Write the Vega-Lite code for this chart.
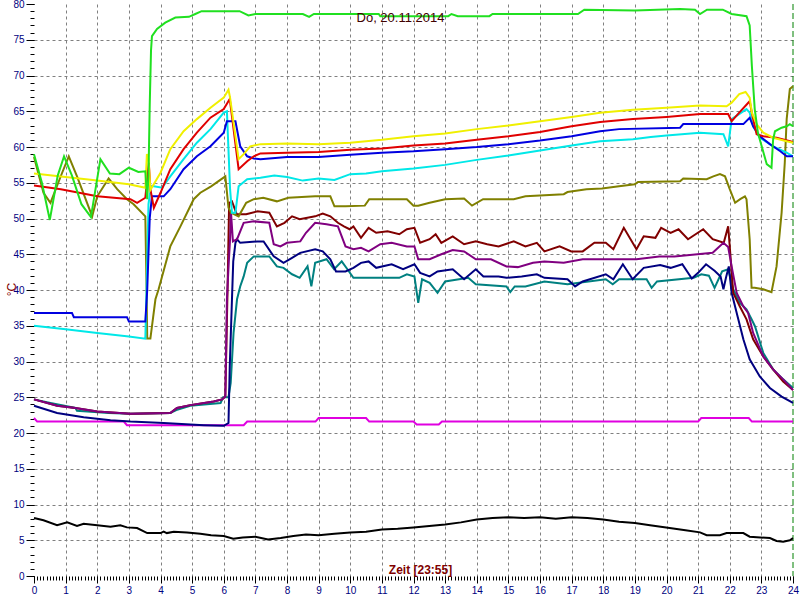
{
"$schema":"https://vega.github.io/schema/vega-lite/v6.json",
"width":759,"height":572,"autosize":"none",
"padding":{"left":34,"top":4,"right":7,"bottom":24},
"background":"white",
"title":{"text":"Do, 20.11.2014","frame":"group","anchor":"middle","offset":0,"dy":26,"dx":-13,"fontSize":13,"fontWeight":"normal","color":"#400000","font":"Liberation Sans"},
"config":{"view":{"stroke":null},"axis":{"labelFont":"Liberation Sans","labelFontSize":10,"labelColor":"#000080","tickColor":"#000000","domain":false,"gridColor":"#808080","gridDash":[3,3],"gridWidth":1,"labelOverlap":false,"labelFlush":false}},
"datasets":{"d":[
{"s":"a","h":0,"t":8.1},{"s":"a","h":0.3,"t":7.8},{"s":"a","h":0.73,"t":7.1},{"s":"a","h":1.05,"t":7.5},{"s":"a","h":1.36,"t":7.0},{"s":"a","h":1.57,"t":7.3},{"s":"a","h":2.0,"t":7.1},{"s":"a","h":2.42,"t":6.9},{"s":"a","h":2.73,"t":7.1},{"s":"a","h":2.94,"t":6.8},{"s":"a","h":3.26,"t":6.7},{"s":"a","h":3.58,"t":6.0},{"s":"a","h":4.0,"t":6.0},{"s":"a","h":4.1,"t":6.2},{"s":"a","h":4.2,"t":6.0},{"s":"a","h":4.42,"t":6.2},{"s":"a","h":4.84,"t":6.1},{"s":"a","h":5.26,"t":5.9},{"s":"a","h":5.6,"t":5.7},{"s":"a","h":6.0,"t":5.6},{"s":"a","h":6.3,"t":5.2},{"s":"a","h":6.6,"t":5.4},{"s":"a","h":7.0,"t":5.5},{"s":"a","h":7.4,"t":5.1},{"s":"a","h":7.8,"t":5.3},{"s":"a","h":8.2,"t":5.6},{"s":"a","h":8.6,"t":5.8},{"s":"a","h":9.0,"t":5.7},{"s":"a","h":9.5,"t":5.9},{"s":"a","h":10.0,"t":6.1},{"s":"a","h":10.5,"t":6.2},{"s":"a","h":11.0,"t":6.5},{"s":"a","h":11.5,"t":6.6},{"s":"a","h":12.0,"t":6.8},{"s":"a","h":12.5,"t":7.0},{"s":"a","h":13.0,"t":7.2},{"s":"a","h":13.5,"t":7.5},{"s":"a","h":14.0,"t":7.9},{"s":"a","h":14.5,"t":8.1},{"s":"a","h":15.0,"t":8.2},{"s":"a","h":15.5,"t":8.1},{"s":"a","h":16.0,"t":8.2},{"s":"a","h":16.5,"t":8.0},{"s":"a","h":17.0,"t":8.2},{"s":"a","h":17.5,"t":8.1},{"s":"a","h":18.0,"t":7.9},{"s":"a","h":18.5,"t":7.6},{"s":"a","h":19.0,"t":7.4},{"s":"a","h":19.48,"t":7.1},{"s":"a","h":20.1,"t":6.7},{"s":"a","h":20.6,"t":6.4},{"s":"a","h":21.06,"t":6.1},{"s":"a","h":21.27,"t":5.7},{"s":"a","h":21.69,"t":5.7},{"s":"a","h":21.9,"t":6.0},{"s":"a","h":22.43,"t":6.0},{"s":"a","h":22.63,"t":5.5},{"s":"a","h":23.27,"t":5.3},{"s":"a","h":23.48,"t":4.9},{"s":"a","h":23.69,"t":4.8},{"s":"a","h":23.9,"t":5.0},{"s":"a","h":24,"t":5.3},
{"s":"b","h":0,"t":22.1},{"s":"b","h":0.1,"t":21.6},{"s":"b","h":2.84,"t":21.6},{"s":"b","h":2.94,"t":21.1},{"s":"b","h":6.63,"t":21.1},{"s":"b","h":6.74,"t":21.6},{"s":"b","h":8.9,"t":21.6},{"s":"b","h":9.0,"t":22.1},{"s":"b","h":10.5,"t":22.1},{"s":"b","h":10.6,"t":21.6},{"s":"b","h":12.0,"t":21.6},{"s":"b","h":12.1,"t":21.2},{"s":"b","h":12.8,"t":21.2},{"s":"b","h":12.9,"t":21.6},{"s":"b","h":21.0,"t":21.6},{"s":"b","h":21.1,"t":22.1},{"s":"b","h":22.6,"t":22.1},{"s":"b","h":22.7,"t":21.6},{"s":"b","h":24,"t":21.6},
{"s":"c","h":0,"t":24.7},{"s":"c","h":0.52,"t":24.2},{"s":"c","h":1.31,"t":23.5},{"s":"c","h":1.36,"t":23.1},{"s":"c","h":2.36,"t":22.8},{"s":"c","h":3.05,"t":22.7},{"s":"c","h":4.31,"t":22.8},{"s":"c","h":4.5,"t":23.2},{"s":"c","h":4.94,"t":23.8},{"s":"c","h":5.9,"t":24.2},{"s":"c","h":5.98,"t":25.0},{"s":"c","h":6.15,"t":25.0},{"s":"c","h":6.22,"t":27.0},{"s":"c","h":6.31,"t":34.0},{"s":"c","h":6.42,"t":38.7},{"s":"c","h":6.52,"t":40.5},{"s":"c","h":6.63,"t":41.9},{"s":"c","h":6.74,"t":43.8},{"s":"c","h":6.95,"t":44.7},{"s":"c","h":7.44,"t":44.7},{"s":"c","h":7.68,"t":43.3},{"s":"c","h":7.89,"t":43.1},{"s":"c","h":8.16,"t":42.2},{"s":"c","h":8.4,"t":41.7},{"s":"c","h":8.65,"t":43.3},{"s":"c","h":8.77,"t":40.5},{"s":"c","h":8.89,"t":43.8},{"s":"c","h":9.25,"t":44.3},{"s":"c","h":9.49,"t":42.9},{"s":"c","h":9.73,"t":44.0},{"s":"c","h":9.91,"t":42.9},{"s":"c","h":10.1,"t":41.7},{"s":"c","h":11.55,"t":41.7},{"s":"c","h":11.79,"t":42.2},{"s":"c","h":12.03,"t":41.9},{"s":"c","h":12.15,"t":38.2},{"s":"c","h":12.27,"t":41.5},{"s":"c","h":12.51,"t":41.0},{"s":"c","h":12.76,"t":39.6},{"s":"c","h":13.0,"t":41.2},{"s":"c","h":13.73,"t":41.7},{"s":"c","h":13.97,"t":40.8},{"s":"c","h":14.94,"t":40.5},{"s":"c","h":15.06,"t":39.7},{"s":"c","h":15.2,"t":40.5},{"s":"c","h":15.54,"t":40.5},{"s":"c","h":16.14,"t":41.2},{"s":"c","h":16.87,"t":40.8},{"s":"c","h":18.08,"t":41.5},{"s":"c","h":18.3,"t":40.8},{"s":"c","h":18.5,"t":41.5},{"s":"c","h":19.37,"t":41.5},{"s":"c","h":19.53,"t":40.3},{"s":"c","h":19.7,"t":41.2},{"s":"c","h":20.86,"t":41.7},{"s":"c","h":21.1,"t":42.2},{"s":"c","h":21.34,"t":42.0},{"s":"c","h":21.52,"t":40.3},{"s":"c","h":21.76,"t":42.6},{"s":"c","h":21.95,"t":42.9},{"s":"c","h":22.11,"t":40.1},{"s":"c","h":22.32,"t":38.2},{"s":"c","h":22.53,"t":37.3},{"s":"c","h":22.69,"t":35.9},{"s":"c","h":22.8,"t":34.9},{"s":"c","h":23.06,"t":31.2},{"s":"c","h":23.37,"t":28.9},{"s":"c","h":23.69,"t":27.5},{"s":"c","h":24,"t":26.3},
{"s":"d","h":0,"t":23.8},{"s":"d","h":0.73,"t":22.8},{"s":"d","h":1.57,"t":22.2},{"s":"d","h":2.42,"t":21.8},{"s":"d","h":3.05,"t":21.6},{"s":"d","h":4.1,"t":21.4},{"s":"d","h":5.37,"t":21.1},{"s":"d","h":6.0,"t":21.0},{"s":"d","h":6.15,"t":21.4},{"s":"d","h":6.19,"t":29.3},{"s":"d","h":6.26,"t":38.7},{"s":"d","h":6.3,"t":44.0},{"s":"d","h":6.37,"t":46.6},{"s":"d","h":6.42,"t":47.1},{"s":"d","h":6.52,"t":46.6},{"s":"d","h":7.05,"t":46.8},{"s":"d","h":7.26,"t":46.8},{"s":"d","h":7.58,"t":44.7},{"s":"d","h":7.89,"t":43.8},{"s":"d","h":8.16,"t":44.5},{"s":"d","h":8.42,"t":45.2},{"s":"d","h":8.89,"t":45.7},{"s":"d","h":9.13,"t":45.4},{"s":"d","h":9.37,"t":44.3},{"s":"d","h":9.55,"t":42.6},{"s":"d","h":9.85,"t":42.6},{"s":"d","h":10.1,"t":43.1},{"s":"d","h":10.34,"t":43.8},{"s":"d","h":10.58,"t":44.0},{"s":"d","h":10.82,"t":43.1},{"s":"d","h":11.31,"t":43.6},{"s":"d","h":11.67,"t":42.9},{"s":"d","h":12.03,"t":43.6},{"s":"d","h":12.21,"t":42.4},{"s":"d","h":12.51,"t":41.9},{"s":"d","h":12.76,"t":42.6},{"s":"d","h":13.24,"t":42.9},{"s":"d","h":13.6,"t":41.5},{"s":"d","h":13.97,"t":42.9},{"s":"d","h":14.21,"t":41.9},{"s":"d","h":14.69,"t":41.9},{"s":"d","h":14.94,"t":41.7},{"s":"d","h":15.42,"t":41.9},{"s":"d","h":15.9,"t":42.2},{"s":"d","h":16.14,"t":41.7},{"s":"d","h":16.87,"t":41.5},{"s":"d","h":17.11,"t":40.5},{"s":"d","h":17.35,"t":41.2},{"s":"d","h":18.08,"t":42.2},{"s":"d","h":18.32,"t":41.5},{"s":"d","h":18.62,"t":43.6},{"s":"d","h":18.93,"t":41.5},{"s":"d","h":19.28,"t":43.1},{"s":"d","h":19.8,"t":43.5},{"s":"d","h":20.13,"t":43.1},{"s":"d","h":20.5,"t":43.6},{"s":"d","h":20.8,"t":41.6},{"s":"d","h":21.0,"t":42.4},{"s":"d","h":21.25,"t":43.6},{"s":"d","h":21.52,"t":42.7},{"s":"d","h":21.71,"t":41.9},{"s":"d","h":21.8,"t":40.1},{"s":"d","h":21.88,"t":41.7},{"s":"d","h":21.97,"t":43.3},{"s":"d","h":22.06,"t":39.6},{"s":"d","h":22.22,"t":36.8},{"s":"d","h":22.43,"t":33.1},{"s":"d","h":22.63,"t":30.3},{"s":"d","h":22.95,"t":27.9},{"s":"d","h":23.27,"t":26.3},{"s":"d","h":23.64,"t":25.1},{"s":"d","h":24,"t":24.2},
{"s":"e","h":0,"t":24.7},{"s":"e","h":0.73,"t":23.8},{"s":"e","h":1.31,"t":23.5},{"s":"e","h":2.0,"t":23.0},{"s":"e","h":3.05,"t":22.7},{"s":"e","h":4.31,"t":22.8},{"s":"e","h":4.52,"t":23.5},{"s":"e","h":4.94,"t":23.9},{"s":"e","h":5.68,"t":24.4},{"s":"e","h":5.95,"t":24.7},{"s":"e","h":6.05,"t":25.1},{"s":"e","h":6.12,"t":40.0},{"s":"e","h":6.17,"t":52.2},{"s":"e","h":6.26,"t":52.4},{"s":"e","h":6.41,"t":50.6},{"s":"e","h":6.71,"t":50.6},{"s":"e","h":7.07,"t":51.0},{"s":"e","h":7.44,"t":50.8},{"s":"e","h":7.68,"t":48.9},{"s":"e","h":7.92,"t":49.4},{"s":"e","h":8.16,"t":50.3},{"s":"e","h":8.4,"t":49.9},{"s":"e","h":8.89,"t":50.3},{"s":"e","h":9.13,"t":50.7},{"s":"e","h":9.37,"t":50.3},{"s":"e","h":9.61,"t":49.4},{"s":"e","h":9.8,"t":48.9},{"s":"e","h":9.98,"t":48.5},{"s":"e","h":10.1,"t":48.9},{"s":"e","h":10.34,"t":47.3},{"s":"e","h":10.58,"t":48.7},{"s":"e","h":10.82,"t":48.0},{"s":"e","h":11.18,"t":48.2},{"s":"e","h":11.55,"t":47.8},{"s":"e","h":11.79,"t":48.5},{"s":"e","h":12.03,"t":48.7},{"s":"e","h":12.21,"t":46.6},{"s":"e","h":12.51,"t":47.1},{"s":"e","h":12.7,"t":47.8},{"s":"e","h":12.88,"t":46.6},{"s":"e","h":13.24,"t":47.5},{"s":"e","h":13.6,"t":46.4},{"s":"e","h":13.97,"t":46.8},{"s":"e","h":14.33,"t":46.4},{"s":"e","h":14.69,"t":46.1},{"s":"e","h":15.17,"t":46.8},{"s":"e","h":15.54,"t":46.1},{"s":"e","h":15.9,"t":46.6},{"s":"e","h":16.14,"t":45.4},{"s":"e","h":16.62,"t":46.1},{"s":"e","h":16.99,"t":45.4},{"s":"e","h":17.35,"t":45.4},{"s":"e","h":17.72,"t":46.6},{"s":"e","h":18.08,"t":46.6},{"s":"e","h":18.32,"t":45.7},{"s":"e","h":18.65,"t":48.7},{"s":"e","h":19.05,"t":45.7},{"s":"e","h":19.28,"t":47.5},{"s":"e","h":19.65,"t":47.3},{"s":"e","h":19.83,"t":48.7},{"s":"e","h":20.13,"t":48.0},{"s":"e","h":20.38,"t":48.5},{"s":"e","h":20.68,"t":47.1},{"s":"e","h":21.16,"t":48.5},{"s":"e","h":21.46,"t":47.1},{"s":"e","h":21.81,"t":46.6},{"s":"e","h":21.95,"t":48.9},{"s":"e","h":22.0,"t":46.1},{"s":"e","h":22.11,"t":39.6},{"s":"e","h":22.32,"t":37.7},{"s":"e","h":22.53,"t":35.9},{"s":"e","h":22.74,"t":33.1},{"s":"e","h":23.06,"t":30.7},{"s":"e","h":23.37,"t":28.9},{"s":"e","h":23.69,"t":27.2},{"s":"e","h":24,"t":26.0},
{"s":"f","h":0,"t":24.7},{"s":"f","h":0.73,"t":23.8},{"s":"f","h":1.31,"t":23.5},{"s":"f","h":2.0,"t":23.0},{"s":"f","h":3.05,"t":22.7},{"s":"f","h":4.31,"t":22.8},{"s":"f","h":4.52,"t":23.5},{"s":"f","h":4.94,"t":23.9},{"s":"f","h":5.68,"t":24.4},{"s":"f","h":5.95,"t":24.7},{"s":"f","h":6.05,"t":25.1},{"s":"f","h":6.1,"t":38.7},{"s":"f","h":6.16,"t":44.0},{"s":"f","h":6.2,"t":47.1},{"s":"f","h":6.23,"t":50.8},{"s":"f","h":6.29,"t":46.8},{"s":"f","h":6.42,"t":47.1},{"s":"f","h":6.63,"t":49.4},{"s":"f","h":6.95,"t":49.6},{"s":"f","h":7.44,"t":49.4},{"s":"f","h":7.58,"t":46.4},{"s":"f","h":7.79,"t":46.1},{"s":"f","h":8.0,"t":46.6},{"s":"f","h":8.42,"t":46.8},{"s":"f","h":8.6,"t":48.0},{"s":"f","h":8.89,"t":49.4},{"s":"f","h":9.25,"t":49.2},{"s":"f","h":9.61,"t":48.9},{"s":"f","h":9.85,"t":46.1},{"s":"f","h":10.1,"t":45.7},{"s":"f","h":10.34,"t":45.9},{"s":"f","h":10.58,"t":45.4},{"s":"f","h":10.95,"t":46.4},{"s":"f","h":11.31,"t":46.6},{"s":"f","h":11.79,"t":46.1},{"s":"f","h":12.03,"t":46.1},{"s":"f","h":12.15,"t":44.3},{"s":"f","h":12.51,"t":44.3},{"s":"f","h":12.88,"t":45.0},{"s":"f","h":13.24,"t":45.6},{"s":"f","h":13.6,"t":45.4},{"s":"f","h":13.97,"t":44.3},{"s":"f","h":14.45,"t":44.3},{"s":"f","h":14.94,"t":43.3},{"s":"f","h":15.3,"t":43.2},{"s":"f","h":15.78,"t":43.8},{"s":"f","h":16.14,"t":44.0},{"s":"f","h":16.75,"t":43.8},{"s":"f","h":17.35,"t":44.3},{"s":"f","h":18.32,"t":44.3},{"s":"f","h":19.05,"t":44.3},{"s":"f","h":19.77,"t":44.7},{"s":"f","h":20.25,"t":44.7},{"s":"f","h":20.98,"t":45.0},{"s":"f","h":21.46,"t":45.2},{"s":"f","h":21.8,"t":46.6},{"s":"f","h":21.95,"t":46.0},{"s":"f","h":22.06,"t":43.3},{"s":"f","h":22.22,"t":39.6},{"s":"f","h":22.43,"t":37.7},{"s":"f","h":22.58,"t":36.8},{"s":"f","h":22.74,"t":34.0},{"s":"f","h":23.06,"t":30.7},{"s":"f","h":23.37,"t":28.9},{"s":"f","h":23.69,"t":27.5},{"s":"f","h":24,"t":26.0},
{"s":"g","h":0,"t":58.6},{"s":"g","h":0.3,"t":53.6},{"s":"g","h":0.52,"t":52.2},{"s":"g","h":0.89,"t":56.4},{"s":"g","h":1.1,"t":58.7},{"s":"g","h":1.36,"t":55.9},{"s":"g","h":1.84,"t":50.3},{"s":"g","h":2.0,"t":53.1},{"s":"g","h":2.36,"t":55.6},{"s":"g","h":2.63,"t":54.1},{"s":"g","h":2.94,"t":52.7},{"s":"g","h":3.15,"t":52.0},{"s":"g","h":3.52,"t":50.3},{"s":"g","h":3.56,"t":40.0},{"s":"g","h":3.58,"t":33.2},{"s":"g","h":3.68,"t":33.2},{"s":"g","h":3.84,"t":38.7},{"s":"g","h":3.94,"t":40.1},{"s":"g","h":4.31,"t":46.1},{"s":"g","h":4.63,"t":48.9},{"s":"g","h":5.05,"t":52.7},{"s":"g","h":5.26,"t":53.6},{"s":"g","h":5.6,"t":54.5},{"s":"g","h":6.05,"t":55.9},{"s":"g","h":6.15,"t":51.5},{"s":"g","h":6.23,"t":50.8},{"s":"g","h":6.47,"t":50.3},{"s":"g","h":6.71,"t":52.2},{"s":"g","h":6.95,"t":52.7},{"s":"g","h":7.25,"t":52.9},{"s":"g","h":7.68,"t":52.4},{"s":"g","h":8.04,"t":52.9},{"s":"g","h":8.89,"t":53.1},{"s":"g","h":9.37,"t":53.1},{"s":"g","h":9.5,"t":51.7},{"s":"g","h":9.85,"t":51.7},{"s":"g","h":10.46,"t":51.8},{"s":"g","h":10.6,"t":52.7},{"s":"g","h":11.79,"t":52.7},{"s":"g","h":12.0,"t":51.8},{"s":"g","h":12.15,"t":51.8},{"s":"g","h":12.51,"t":52.2},{"s":"g","h":13.0,"t":52.7},{"s":"g","h":13.6,"t":52.8},{"s":"g","h":13.85,"t":51.8},{"s":"g","h":14.2,"t":52.7},{"s":"g","h":15.17,"t":52.7},{"s":"g","h":15.54,"t":53.1},{"s":"g","h":16.75,"t":53.4},{"s":"g","h":16.87,"t":53.7},{"s":"g","h":17.47,"t":54.1},{"s":"g","h":17.96,"t":54.2},{"s":"g","h":18.5,"t":54.5},{"s":"g","h":19.0,"t":54.8},{"s":"g","h":19.1,"t":55.1},{"s":"g","h":20.43,"t":55.2},{"s":"g","h":20.53,"t":55.6},{"s":"g","h":21.27,"t":55.5},{"s":"g","h":21.48,"t":55.9},{"s":"g","h":21.69,"t":56.2},{"s":"g","h":21.85,"t":55.9},{"s":"g","h":22.0,"t":54.1},{"s":"g","h":22.17,"t":52.2},{"s":"g","h":22.33,"t":52.7},{"s":"g","h":22.48,"t":53.1},{"s":"g","h":22.53,"t":52.7},{"s":"g","h":22.63,"t":47.1},{"s":"g","h":22.69,"t":40.3},{"s":"g","h":22.79,"t":40.3},{"s":"g","h":23.06,"t":40.1},{"s":"g","h":23.32,"t":39.7},{"s":"g","h":23.48,"t":43.3},{"s":"g","h":23.64,"t":50.8},{"s":"g","h":23.74,"t":57.8},{"s":"g","h":23.8,"t":63.9},{"s":"g","h":23.9,"t":68.1},{"s":"g","h":24,"t":68.5},
{"s":"h","h":0,"t":35.0},{"s":"h","h":1,"t":34.5},{"s":"h","h":2,"t":34.0},{"s":"h","h":3,"t":33.5},{"s":"h","h":3.52,"t":33.2},{"s":"h","h":3.56,"t":40.0},{"s":"h","h":3.62,"t":52.0},{"s":"h","h":3.7,"t":54.5},{"s":"h","h":3.79,"t":54.5},{"s":"h","h":4.05,"t":54.3},{"s":"h","h":4.31,"t":55.9},{"s":"h","h":4.73,"t":58.3},{"s":"h","h":5.15,"t":60.6},{"s":"h","h":5.58,"t":62.5},{"s":"h","h":6.0,"t":64.8},{"s":"h","h":6.1,"t":65.0},{"s":"h","h":6.2,"t":54.1},{"s":"h","h":6.26,"t":50.8},{"s":"h","h":6.37,"t":50.8},{"s":"h","h":6.47,"t":54.5},{"s":"h","h":6.74,"t":55.5},{"s":"h","h":7.16,"t":55.7},{"s":"h","h":7.6,"t":56.0},{"s":"h","h":8.0,"t":55.8},{"s":"h","h":8.5,"t":55.3},{"s":"h","h":9.0,"t":55.6},{"s":"h","h":9.5,"t":55.4},{"s":"h","h":10.0,"t":56.2},{"s":"h","h":10.5,"t":56.3},{"s":"h","h":11.0,"t":56.6},{"s":"h","h":12.0,"t":57.0},{"s":"h","h":13.0,"t":57.5},{"s":"h","h":14.0,"t":58.2},{"s":"h","h":15.0,"t":58.8},{"s":"h","h":16.0,"t":59.5},{"s":"h","h":17.0,"t":60.2},{"s":"h","h":17.9,"t":60.8},{"s":"h","h":18.94,"t":61.1},{"s":"h","h":19.5,"t":61.4},{"s":"h","h":20.0,"t":61.6},{"s":"h","h":21.06,"t":62.0},{"s":"h","h":21.8,"t":61.8},{"s":"h","h":21.95,"t":60.1},{"s":"h","h":22.06,"t":63.9},{"s":"h","h":22.53,"t":65.3},{"s":"h","h":22.63,"t":64.8},{"s":"h","h":22.74,"t":62.9},{"s":"h","h":22.95,"t":61.3},{"s":"h","h":23.37,"t":60.1},{"s":"h","h":23.8,"t":59.2},{"s":"h","h":24,"t":58.7},
{"s":"i","h":0,"t":36.8},{"s":"i","h":1.2,"t":36.8},{"s":"i","h":1.26,"t":36.2},{"s":"i","h":2.94,"t":36.2},{"s":"i","h":3.0,"t":35.6},{"s":"i","h":3.52,"t":35.6},{"s":"i","h":3.58,"t":40.0},{"s":"i","h":3.66,"t":50.1},{"s":"i","h":3.73,"t":53.1},{"s":"i","h":4.1,"t":53.1},{"s":"i","h":4.31,"t":54.1},{"s":"i","h":4.73,"t":56.9},{"s":"i","h":5.15,"t":58.7},{"s":"i","h":5.58,"t":60.1},{"s":"i","h":6.0,"t":62.0},{"s":"i","h":6.1,"t":63.6},{"s":"i","h":6.37,"t":63.6},{"s":"i","h":6.52,"t":60.1},{"s":"i","h":6.74,"t":58.7},{"s":"i","h":6.95,"t":58.4},{"s":"i","h":7.16,"t":58.3},{"s":"i","h":8,"t":58.6},{"s":"i","h":9,"t":58.6},{"s":"i","h":10,"t":58.9},{"s":"i","h":11,"t":59.2},{"s":"i","h":12,"t":59.4},{"s":"i","h":13,"t":59.7},{"s":"i","h":14,"t":60.0},{"s":"i","h":15,"t":60.4},{"s":"i","h":16,"t":60.9},{"s":"i","h":17,"t":61.5},{"s":"i","h":17.9,"t":62.2},{"s":"i","h":18.5,"t":62.5},{"s":"i","h":20.43,"t":62.7},{"s":"i","h":20.53,"t":63.2},{"s":"i","h":22.43,"t":63.2},{"s":"i","h":22.63,"t":64.1},{"s":"i","h":22.74,"t":62.9},{"s":"i","h":22.95,"t":61.5},{"s":"i","h":23.27,"t":60.4},{"s":"i","h":23.6,"t":59.4},{"s":"i","h":23.8,"t":58.7},{"s":"i","h":24,"t":58.7},
{"s":"j","h":0,"t":54.6},{"s":"j","h":0.85,"t":54.1},{"s":"j","h":2.0,"t":53.1},{"s":"j","h":3.05,"t":52.7},{"s":"j","h":3.26,"t":52.2},{"s":"j","h":3.52,"t":52.9},{"s":"j","h":3.63,"t":57.8},{"s":"j","h":3.68,"t":54.1},{"s":"j","h":3.79,"t":51.5},{"s":"j","h":4.0,"t":53.6},{"s":"j","h":4.31,"t":56.9},{"s":"j","h":4.73,"t":59.7},{"s":"j","h":5.15,"t":62.0},{"s":"j","h":5.58,"t":64.1},{"s":"j","h":6.0,"t":65.3},{"s":"j","h":6.19,"t":66.7},{"s":"j","h":6.26,"t":64.3},{"s":"j","h":6.47,"t":56.9},{"s":"j","h":6.74,"t":58.0},{"s":"j","h":6.95,"t":58.7},{"s":"j","h":7.16,"t":59.1},{"s":"j","h":8,"t":59.2},{"s":"j","h":9,"t":59.3},{"s":"j","h":10,"t":59.6},{"s":"j","h":11,"t":59.8},{"s":"j","h":12,"t":60.2},{"s":"j","h":13,"t":60.5},{"s":"j","h":14,"t":61.0},{"s":"j","h":15,"t":61.5},{"s":"j","h":16,"t":62.1},{"s":"j","h":17,"t":62.9},{"s":"j","h":17.9,"t":63.5},{"s":"j","h":18.94,"t":63.9},{"s":"j","h":20,"t":64.2},{"s":"j","h":21.06,"t":64.6},{"s":"j","h":21.95,"t":64.6},{"s":"j","h":22.06,"t":63.6},{"s":"j","h":22.3,"t":64.8},{"s":"j","h":22.63,"t":66.4},{"s":"j","h":22.72,"t":64.3},{"s":"j","h":22.85,"t":61.8},{"s":"j","h":23.06,"t":61.5},{"s":"j","h":23.48,"t":61.3},{"s":"j","h":24,"t":60.7},
{"s":"k","h":0,"t":56.3},{"s":"k","h":1,"t":55.8},{"s":"k","h":2,"t":55.3},{"s":"k","h":3,"t":54.8},{"s":"k","h":3.52,"t":54.3},{"s":"k","h":3.57,"t":59.0},{"s":"k","h":3.62,"t":58.3},{"s":"k","h":3.68,"t":54.0},{"s":"k","h":4.0,"t":56.4},{"s":"k","h":4.31,"t":59.7},{"s":"k","h":4.73,"t":62.2},{"s":"k","h":5.15,"t":63.9},{"s":"k","h":5.58,"t":65.5},{"s":"k","h":6.0,"t":66.9},{"s":"k","h":6.15,"t":68.0},{"s":"k","h":6.2,"t":66.9},{"s":"k","h":6.47,"t":58.3},{"s":"k","h":6.63,"t":59.0},{"s":"k","h":6.84,"t":60.1},{"s":"k","h":7.16,"t":60.4},{"s":"k","h":8,"t":60.5},{"s":"k","h":9,"t":60.4},{"s":"k","h":10,"t":60.6},{"s":"k","h":11,"t":61.0},{"s":"k","h":12,"t":61.5},{"s":"k","h":13,"t":61.9},{"s":"k","h":14,"t":62.5},{"s":"k","h":15,"t":63.0},{"s":"k","h":16,"t":63.6},{"s":"k","h":17,"t":64.2},{"s":"k","h":17.9,"t":64.8},{"s":"k","h":18.94,"t":65.2},{"s":"k","h":20,"t":65.5},{"s":"k","h":21.06,"t":65.8},{"s":"k","h":21.9,"t":65.7},{"s":"k","h":22.06,"t":66.2},{"s":"k","h":22.3,"t":67.4},{"s":"k","h":22.5,"t":67.7},{"s":"k","h":22.63,"t":66.9},{"s":"k","h":22.7,"t":64.8},{"s":"k","h":22.85,"t":63.2},{"s":"k","h":23.06,"t":62.0},{"s":"k","h":23.37,"t":61.3},{"s":"k","h":23.8,"t":60.8},{"s":"k","h":24,"t":60.6},
{"s":"l","h":0,"t":59.0},{"s":"l","h":0.25,"t":55.0},{"s":"l","h":0.5,"t":49.8},{"s":"l","h":0.75,"t":56.0},{"s":"l","h":0.95,"t":58.7},{"s":"l","h":1.2,"t":56.0},{"s":"l","h":1.5,"t":52.0},{"s":"l","h":1.8,"t":50.2},{"s":"l","h":2.1,"t":58.3},{"s":"l","h":2.4,"t":56.3},{"s":"l","h":2.7,"t":56.2},{"s":"l","h":3.0,"t":57.1},{"s":"l","h":3.3,"t":56.5},{"s":"l","h":3.52,"t":56.6},{"s":"l","h":3.58,"t":52.7},{"s":"l","h":3.62,"t":56.0},{"s":"l","h":3.66,"t":66.0},{"s":"l","h":3.7,"t":73.5},{"s":"l","h":3.73,"t":75.5},{"s":"l","h":3.89,"t":76.5},{"s":"l","h":4.15,"t":77.4},{"s":"l","h":4.47,"t":78.1},{"s":"l","h":4.9,"t":78.2},{"s":"l","h":5.1,"t":78.6},{"s":"l","h":5.3,"t":79.0},{"s":"l","h":6.5,"t":79.0},{"s":"l","h":6.78,"t":78.4},{"s":"l","h":7.0,"t":78.6},{"s":"l","h":8.5,"t":78.6},{"s":"l","h":8.7,"t":78.2},{"s":"l","h":8.85,"t":78.6},{"s":"l","h":10.9,"t":78.6},{"s":"l","h":10.95,"t":78.3},{"s":"l","h":13.1,"t":78.3},{"s":"l","h":13.2,"t":78.6},{"s":"l","h":13.4,"t":78.3},{"s":"l","h":14.4,"t":78.3},{"s":"l","h":14.5,"t":78.6},{"s":"l","h":17.2,"t":78.6},{"s":"l","h":17.4,"t":79.2},{"s":"l","h":19.0,"t":79.1},{"s":"l","h":20.43,"t":79.3},{"s":"l","h":20.9,"t":79.2},{"s":"l","h":21.06,"t":78.6},{"s":"l","h":21.28,"t":79.2},{"s":"l","h":21.78,"t":79.2},{"s":"l","h":22.06,"t":78.6},{"s":"l","h":22.53,"t":78.3},{"s":"l","h":22.63,"t":77.0},{"s":"l","h":22.7,"t":71.3},{"s":"l","h":22.79,"t":65.3},{"s":"l","h":22.89,"t":62.0},{"s":"l","h":23.01,"t":60.1},{"s":"l","h":23.17,"t":57.6},{"s":"l","h":23.32,"t":57.1},{"s":"l","h":23.37,"t":61.0},{"s":"l","h":23.43,"t":62.2},{"s":"l","h":23.64,"t":62.7},{"s":"l","h":23.8,"t":62.9},{"s":"l","h":23.9,"t":63.2},{"s":"l","h":24,"t":62.9}
]},
"layer":[
{"data":{"values":[{"h":0,"t":0}]},"mark":{"type":"point","opacity":0},
 "encoding":{
  "x":{"field":"h","type":"quantitative","scale":{"domain":[0,24],"nice":false,"zero":false},"axis":{"orient":"bottom","tickCount":240,"labels":false,"grid":false,"tickSize":4,"title":null}},
  "y":{"field":"t","type":"quantitative","scale":{"domain":[0,80],"nice":false},"axis":{"orient":"left","tickCount":80,"labels":false,"grid":false,"tickSize":4,"title":null}}}},
{"data":{"values":[{"h":24}]},"mark":{"type":"rule","color":"#008000","strokeDash":[6,3],"strokeWidth":1},
 "encoding":{"x":{"field":"h","type":"quantitative","axis":null}}},
{"data":{"name":"d"},"mark":{"type":"line","strokeWidth":2},
 "encoding":{
  "x":{"field":"h","type":"quantitative","axis":{"orient":"bottom","tickCount":24,"tickSize":7,"labelPadding":2,"grid":true,"gridOpacity":{"condition":{"test":"datum.value == 0 || datum.value == 24","value":0},"value":1},"title":"Zeit [23:55]","titleX":386,"titleY":-3,"titleAlign":"center","titleBaseline":"alphabetic","titleFont":"Liberation Sans","titleFontSize":12,"titleFontWeight":"bold","titleColor":"#800000"}},
  "y":{"field":"t","type":"quantitative","axis":{"orient":"left","tickCount":16,"tickSize":8,"labelPadding":2,"grid":true,"gridOpacity":{"condition":{"test":"datum.value == 0 || datum.value == 80","value":0},"value":1},"title":"°C","titleX":-23,"titleY":285,"titleAngle":270,"titleAlign":"center","titleBaseline":"middle","titleFont":"Liberation Sans","titleFontSize":12,"titleFontWeight":"normal","titleColor":"#800000"}},
  "color":{"field":"s","type":"nominal","legend":null,"scale":{"domain":["a","b","c","d","e","f","g","h","i","j","k","l"],"range":["#000000","#e000e0","#008080","#000080","#800000","#800080","#808000","#00e8e8","#0000e0","#e00000","#f0f000","#20e020"]}}}}
],
"resolve":{"axis":{"x":"independent","y":"independent"}}
}
